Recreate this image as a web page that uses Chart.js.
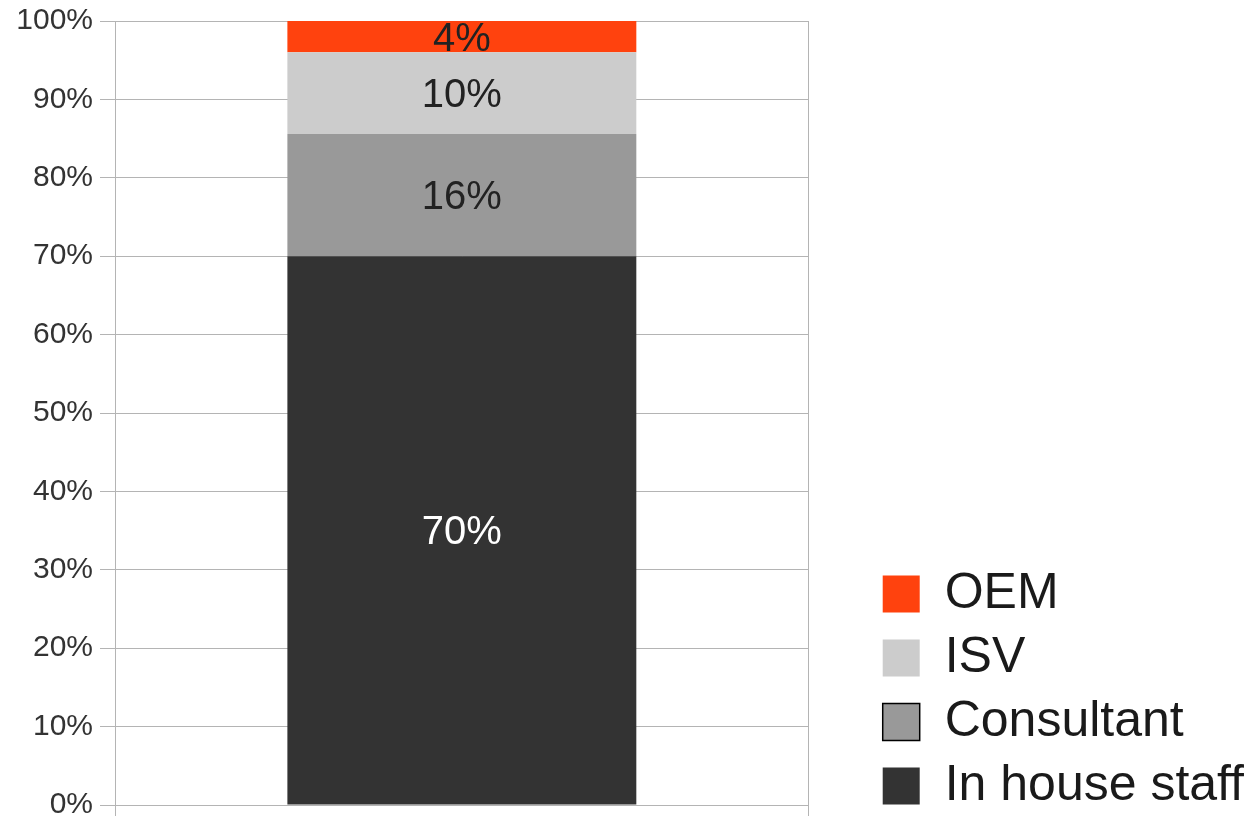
<!DOCTYPE html>
<html>
<head>
<meta charset="utf-8">
<script src="https://cdn.jsdelivr.net/npm/chart.js@4/dist/chart.umd.min.js"></script>
<style>
  html, body { margin: 0; padding: 0; background: #fff; }
  #wrap { width: 1249px; height: 816px; position: relative; }
</style>
</head>
<body>
<div id="wrap"><canvas id="shareChart"></canvas></div>
<script>
// data
var categories = [''];
var inHouseStaff = [70];
var consultant = [15.6];
var isv = [10.4];
var oem = [4.0];
var yTickValues = [0, 10, 20, 30, 40, 50, 60, 70, 80, 90, 100];

var gridGray = '#b4b4b4';

// writes the share inside each stacked piece
var segmentLabels = {
    id: 'segmentLabels',
    afterDatasetsDraw: function (chart) {
        var ctx = chart.ctx;
        ctx.save();
        ctx.font = '40px "Liberation Sans", Arial, sans-serif';
        ctx.textAlign = 'center';
        ctx.textBaseline = 'middle';
        chart.data.datasets.forEach(function (ds, i) {
            var meta = chart.getDatasetMeta(i);
            meta.data.forEach(function (bar, j) {
                var v = ds.data[j];
                ctx.fillStyle = ds.labelColor;
                ctx.fillText(Math.round(v) + '%', bar.x, (bar.y + bar.base) / 2 + 3);
            });
        });
        ctx.restore();
    }
};

Chart.defaults.font.family = '"Liberation Sans", Arial, sans-serif';
Chart.defaults.animation = false;

var ctx = document.getElementById('shareChart').getContext('2d');
var shareChart = new Chart(ctx, {
    type: 'bar',
    data: {
        labels: categories,
        datasets: [
            { label: 'In house staff', data: inHouseStaff, backgroundColor: '#333333', labelColor: '#ffffff' },
            { label: 'Consultant', data: consultant, backgroundColor: '#999999', labelColor: '#222222' },
            { label: 'ISV', data: isv, backgroundColor: '#cccccc', labelColor: '#222222' },
            { label: 'OEM', data: oem, backgroundColor: '#ff420e', labelColor: '#222222' }
        ]
    },
    options: {
        responsive: true,
        maintainAspectRatio: false,
        layout: {
            padding: { top: 21, left: 16, right: -5, bottom: -9 }
        },
        datasets: {
            bar: { categoryPercentage: 1, barPercentage: 0.503, borderWidth: 0 }
        },
        plugins: {
            tooltip: { enabled: false },
            legend: {
                position: 'right',
                align: 'end',
                reverse: true,
                maxWidth: 400,
                labels: {
                    color: '#1a1a1a',
                    font: { size: 50 },
                    boxWidth: 37,
                    boxHeight: 37,
                    padding: 14,
                    generateLabels: function (chart) {
                        var items = Chart.defaults.plugins.legend.labels.generateLabels(chart);
                        items.forEach(function (it) {
                            if (it.text === 'Consultant') {
                                it.strokeStyle = '#000000';
                                it.lineWidth = 1.5;
                            } else {
                                it.lineWidth = 0;
                            }
                        });
                        return items;
                    }
                }
            }
        },
        scales: {
            x: {
                stacked: true,
                offset: true,
                ticks: { display: false },
                grid: { color: gridGray, tickLength: 20, offset: true },
                border: { color: gridGray },
                afterFit: function (scale) {
                    scale.paddingLeft = 0;
                    scale.paddingRight = 0;
                }
            },
            y: {
                stacked: true,
                min: 0,
                max: 100,
                afterBuildTicks: function (scale) {
                    scale.ticks = yTickValues.map(function (v) { return { value: v }; });
                },
                afterFit: function (scale) {
                    scale.width = 99;
                    scale.paddingTop = 0;
                    scale.paddingBottom = 0;
                },
                ticks: {
                    color: '#333333',
                    font: { size: 30 },
                    padding: 7,
                    callback: function (v) { return v + '%'; }
                },
                grid: { color: gridGray, tickLength: 15 },
                border: { color: gridGray }
            },
            // empty spacer between plot frame and legend
            spacer: {
                type: 'linear',
                position: 'right',
                min: 0,
                max: 100,
                ticks: { display: false },
                grid: { display: false, drawTicks: false },
                border: { display: false },
                afterFit: function (scale) {
                    scale.width = 60;
                    scale.paddingTop = 0;
                    scale.paddingBottom = 0;
                }
            }
        }
    },
    plugins: [segmentLabels]
});
</script>
</body>
</html>
